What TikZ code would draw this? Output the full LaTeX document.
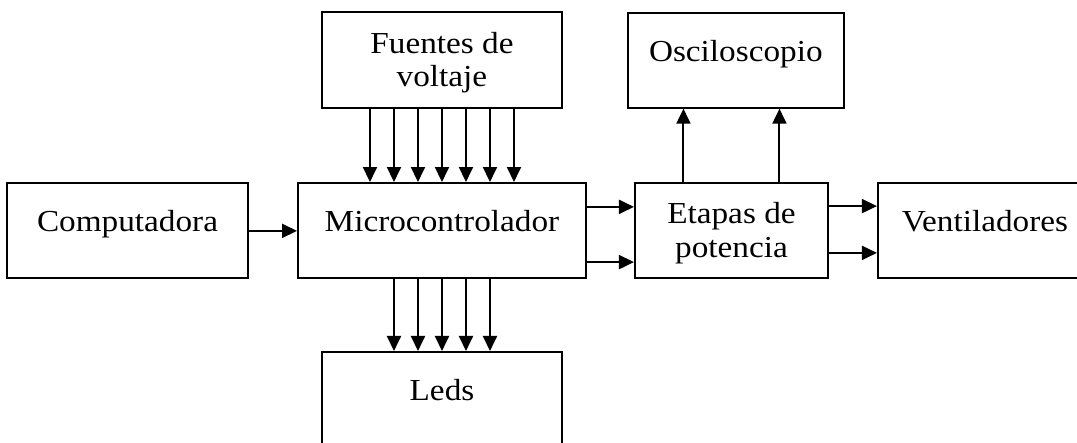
\documentclass[tikz,border=0pt]{standalone}
\usepackage{fontspec}
\setmainfont{Liberation Serif}[FakeStretch=1.09]
\usetikzlibrary{positioning, arrows.meta}
\tikzstyle{block} = [rectangle, draw=black, line width=1.4pt, inner sep=0pt, text height=1.225cm, text depth=1.15cm, align=center, font=\fontsize{21.7}{23.8}\selectfont]
\tikzstyle{block2} = [block, text height=1.86cm, text depth=0.53cm]
\tikzstyle{arrow} = [line width=1.4pt, -{Triangle[length=0.375cm, width=0.35cm]}]

\begin{document}
\begin{tikzpicture}
\clip (0,0) rectangle (26.925,-11.05);
\fill [white] (0,0) rectangle (26.925,-11.05);
\node (micro) [block, minimum width=7.2cm, anchor=north west] at (7.425,-4.55) {Microcontrolador};
\node (comp) [block, minimum width=6.025cm, left=1.2cm of micro] {Computadora};
\node (etapas) [block2, minimum width=4.825cm, right=1.175cm of micro] {Etapas de\\potencia};
\node (venti) [block, minimum width=5.35cm, right=1.2cm of etapas] {Ventiladores};
\node (fuentes) [block2, minimum width=6cm, above=1.825cm of micro] {Fuentes de\\voltaje};
\node (oscilo) [block, minimum width=5.4cm, above=1.825cm of etapas, xshift=0.11cm] {Osciloscopio};
\node (leds) [block, minimum width=6cm, below=1.8cm of micro] {Leds};
\draw [arrow] ([yshift=-0.01cm]comp.east) -- ([yshift=-0.01cm]micro.west);
\foreach \i in {-3,...,3}
  \draw [arrow] ([xshift=\i*0.6cm]fuentes.south) -- ([xshift=\i*0.6cm]micro.north);
\foreach \i in {-2,...,2}
  \draw [arrow] ([xshift=\i*0.6cm]micro.south) -- ([xshift=\i*0.6cm]leds.north);
\draw [arrow] ([yshift=0.59cm]micro.east) -- ([yshift=0.59cm]etapas.west);
\draw [arrow] ([yshift=-0.79cm]micro.east) -- ([yshift=-0.79cm]etapas.west);
\draw [arrow] ([yshift=0.61cm]etapas.east) -- ([yshift=0.61cm]venti.west);
\draw [arrow] ([yshift=-0.56cm]etapas.east) -- ([yshift=-0.56cm]venti.west);
\draw [arrow] ([xshift=-1.2cm]etapas.north) -- ([xshift=-1.2cm]etapas.north |- oscilo.south);
\draw [arrow] ([xshift=1.2cm]etapas.north) -- ([xshift=1.2cm]etapas.north |- oscilo.south);
\end{tikzpicture}
\end{document}
